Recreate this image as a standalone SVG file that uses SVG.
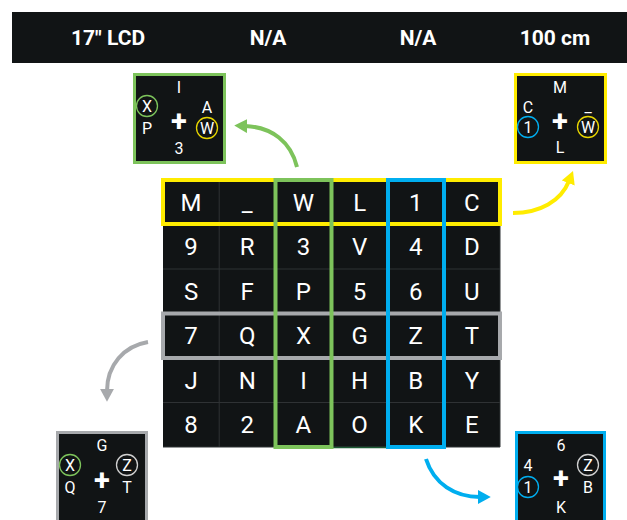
<svg xmlns="http://www.w3.org/2000/svg" width="627" height="520" viewBox="0 0 627 520">
<defs>
<style>
.bar{font-family:Roboto,"Liberation Sans",sans-serif;font-weight:bold;font-size:21px;fill:#fff;text-anchor:middle}
.cell{font-family:Roboto,"Liberation Sans",sans-serif;font-size:24px;fill:#fff;text-anchor:middle}
.bt{font-family:Roboto,"Liberation Sans",sans-serif;font-size:16px;fill:#fff;text-anchor:middle}
.plus{font-family:Roboto,"Liberation Sans",sans-serif;font-weight:bold;font-size:29px;fill:#fff;text-anchor:middle}
.gl{stroke:#2f3234;stroke-width:1;fill:none}
.ring{fill:none;stroke-width:1.3}
.conn{fill:none;stroke-width:4}
</style>
<marker id="hg" markerUnits="userSpaceOnUse" markerWidth="13" markerHeight="14" viewBox="0 0 12 13" refX="2" refY="6.5" orient="auto"><path d="M0,0 L12,6.5 L0,13 z" fill="#7dc35b"/></marker>
<marker id="hy" markerUnits="userSpaceOnUse" markerWidth="13" markerHeight="14" viewBox="0 0 12 13" refX="2" refY="6.5" orient="auto"><path d="M0,0 L12,6.5 L0,13 z" fill="#ffec00"/></marker>
<marker id="hk" markerUnits="userSpaceOnUse" markerWidth="13" markerHeight="14" viewBox="0 0 12 13" refX="2" refY="6.5" orient="auto"><path d="M0,0 L12,6.5 L0,13 z" fill="#a7a9ac"/></marker>
<marker id="hb" markerUnits="userSpaceOnUse" markerWidth="13" markerHeight="14" viewBox="0 0 12 13" refX="2" refY="6.5" orient="auto"><path d="M0,0 L12,6.5 L0,13 z" fill="#00aeef"/></marker>
</defs>
<rect width="627" height="520" fill="#fff"/>

<g id="header">
<rect x="12" y="12" width="615" height="51" fill="#111415"/>
<text class="bar" x="108" y="45">17" LCD</text>
<text class="bar" x="268" y="45">N/A</text>
<text class="bar" x="418" y="45">N/A</text>
<text class="bar" x="555" y="45">100 cm</text>
</g>

<g id="grid">
<rect x="163" y="180" width="337" height="267" fill="#111415"/>
<path class="gl" d="M219.2,180V447M275.3,180V447M331.5,180V447M387.7,180V447M443.8,180V447M500,180V447M163,224.5H500M163,269H500M163,313.5H500M163,358H500M163,402.5H500M163,447H500"/>
<line x1="332" y1="447.5" x2="388" y2="447.5" stroke="#1d5a34" stroke-width="1.5"/>
<g class="cell">
<text x="191.1" y="210.8">M</text><text x="247.2" y="210.8">_</text><text x="303.4" y="210.8">W</text><text x="359.6" y="210.8">L</text><text x="415.8" y="210.8">1</text><text x="471.9" y="210.8">C</text>
<text x="191.1" y="255.3">9</text><text x="247.2" y="255.3">R</text><text x="303.4" y="255.3">3</text><text x="359.6" y="255.3">V</text><text x="415.8" y="255.3">4</text><text x="471.9" y="255.3">D</text>
<text x="191.1" y="299.8">S</text><text x="247.2" y="299.8">F</text><text x="303.4" y="299.8">P</text><text x="359.6" y="299.8">5</text><text x="415.8" y="299.8">6</text><text x="471.9" y="299.8">U</text>
<text x="191.1" y="344.3">7</text><text x="247.2" y="344.3">Q</text><text x="303.4" y="344.3">X</text><text x="359.6" y="344.3">G</text><text x="415.8" y="344.3">Z</text><text x="471.9" y="344.3">T</text>
<text x="191.1" y="388.8">J</text><text x="247.2" y="388.8">N</text><text x="303.4" y="388.8">I</text><text x="359.6" y="388.8">H</text><text x="415.8" y="388.8">B</text><text x="471.9" y="388.8">Y</text>
<text x="191.1" y="433.3">8</text><text x="247.2" y="433.3">2</text><text x="303.4" y="433.3">A</text><text x="359.6" y="433.3">O</text><text x="415.8" y="433.3">K</text><text x="471.9" y="433.3">E</text>
</g>
<rect x="163" y="180" width="337" height="44" fill="none" stroke="#ffec00" stroke-width="4"/>
<rect x="163" y="313.5" width="337" height="44.5" fill="none" stroke="#a7a9ac" stroke-width="4"/>
<rect x="275.5" y="180" width="56" height="267" fill="none" stroke="#7dc35b" stroke-width="4"/>
<rect x="388" y="180" width="56" height="267" fill="none" stroke="#00aeef" stroke-width="4"/>
</g>

<g id="box-green">
<rect x="134.5" y="74.5" width="90" height="88" fill="#111415" stroke="#7dc35b" stroke-width="3"/>
<text class="bt" x="179" y="92.7">I</text>
<circle class="ring" cx="147" cy="106" r="10.5" stroke="#7dc35b"/>
<text class="bt" x="147" y="111.7">X</text>
<text class="bt" x="147" y="133.7">P</text>
<text class="plus" x="179" y="131">+</text>
<text class="bt" x="207" y="112.7">A</text>
<circle class="ring" cx="207" cy="128" r="10.5" stroke="#e8d600"/>
<text class="bt" x="207" y="133.7">W</text>
<text class="bt" x="179" y="153.7">3</text>
</g>

<g id="box-yellow">
<rect x="515.5" y="74.5" width="90" height="88" fill="#111415" stroke="#ffec00" stroke-width="3"/>
<text class="bt" x="560" y="92.7">M</text>
<text class="bt" x="528" y="112.7">C</text>
<circle class="ring" cx="528" cy="127" r="10.5" stroke="#00aeef"/>
<text class="bt" x="528" y="132.7">1</text>
<text class="plus" x="560" y="131">+</text>
<text class="bt" x="588" y="111.5">_</text>
<circle class="ring" cx="588" cy="127" r="10.5" stroke="#e8d600"/>
<text class="bt" x="588" y="132.7">W</text>
<text class="bt" x="560" y="152.7">L</text>
</g>

<g id="box-grey">
<rect x="57.5" y="432.5" width="89" height="90" fill="#111415" stroke="#a7a9ac" stroke-width="3"/>
<text class="bt" x="102" y="450.7">G</text>
<circle class="ring" cx="70" cy="465" r="10.5" stroke="#7dc35b"/>
<text class="bt" x="70" y="470.7">X</text>
<text class="bt" x="70" y="492.7">Q</text>
<text class="plus" x="102" y="490">+</text>
<circle class="ring" cx="127" cy="465" r="10.5" stroke="#d0d0d0"/>
<text class="bt" x="127" y="470.7">Z</text>
<text class="bt" x="127" y="492.7">T</text>
<text class="bt" x="102" y="512.7">7</text>
</g>

<g id="box-blue">
<rect x="516.5" y="432.5" width="88" height="90" fill="#111415" stroke="#00aeef" stroke-width="3"/>
<text class="bt" x="561" y="450.7">6</text>
<text class="bt" x="528" y="470.7">4</text>
<circle class="ring" cx="528" cy="487" r="10.5" stroke="#00aeef"/>
<text class="bt" x="528" y="492.7">1</text>
<text class="plus" x="561" y="488">+</text>
<circle class="ring" cx="588" cy="465" r="10.5" stroke="#d0d0d0"/>
<text class="bt" x="588" y="470.7">Z</text>
<text class="bt" x="588" y="492.7">B</text>
<text class="bt" x="561" y="512.7">K</text>
</g>

<g id="connectors">
<path class="conn" stroke="#7dc35b" d="M297,167 C291,142 272,127 245,126" marker-end="url(#hg)"/>
<path class="conn" stroke="#ffec00" d="M513,213 C540,213 561,201 569,181" marker-end="url(#hy)"/>
<path class="conn" stroke="#a7a9ac" d="M148,342 C124,346 107,365 107,391" marker-end="url(#hk)"/>
<path class="conn" stroke="#00aeef" d="M426,459 C434,484 455,497 480,497" marker-end="url(#hb)"/>
</g>
</svg>
